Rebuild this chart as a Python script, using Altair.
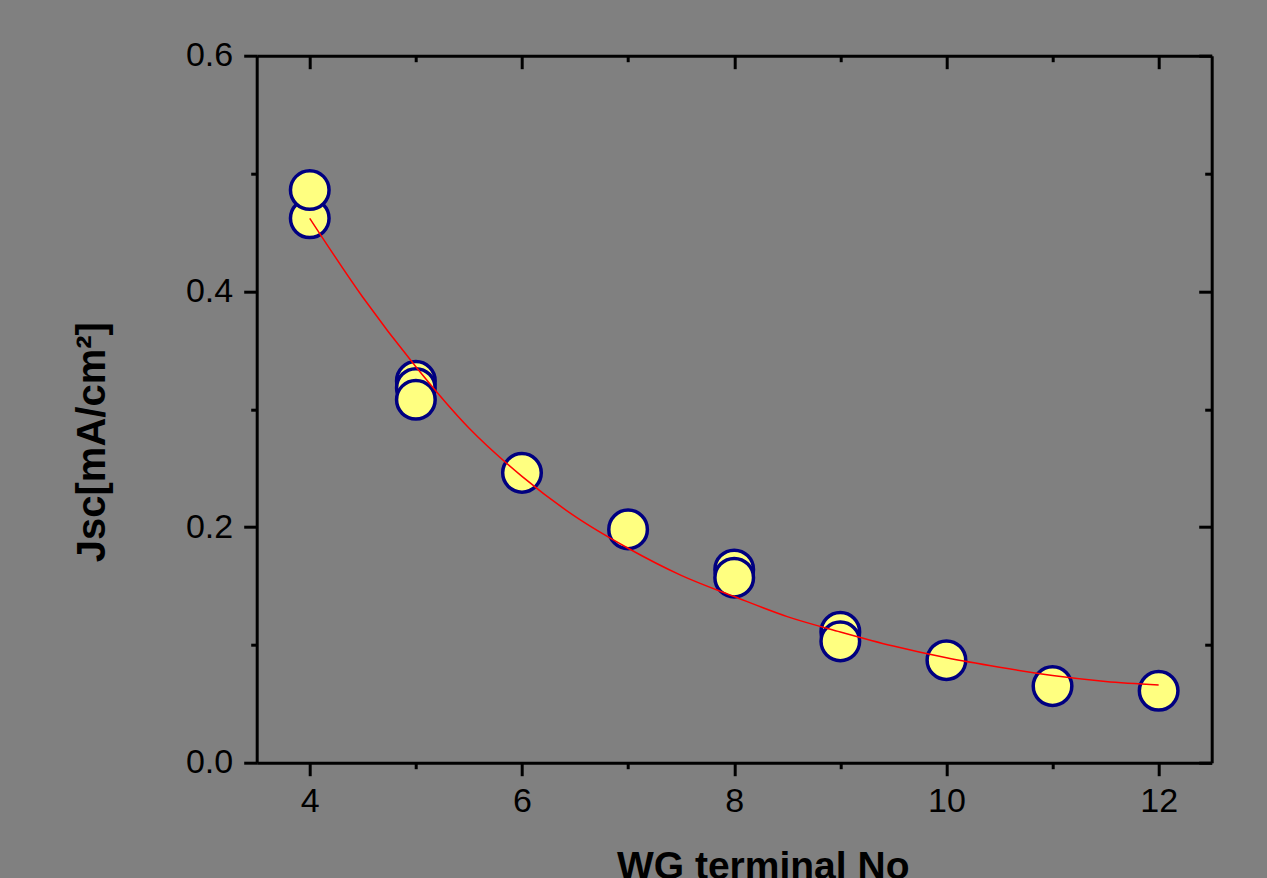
import altair as alt
import pandas as pd

# Measured points (WG terminal No vs Jsc)
pt_x = [4, 4, 5, 5, 5, 6, 7, 8, 8, 9, 9, 10, 11, 12]
pt_y = [0.462, 0.486, 0.324, 0.318, 0.308, 0.246, 0.198, 0.164, 0.157, 0.111, 0.103, 0.087, 0.065, 0.061]

# Fitted curve
curve_x = [4, 4.5, 5, 5.5, 6, 6.5, 7, 7.5, 8, 8.5, 9, 9.5, 10, 10.5, 11, 11.5, 12]
curve_y = [0.462, 0.395, 0.336, 0.284, 0.243, 0.209, 0.182, 0.159, 0.141, 0.124, 0.111, 0.099,
           0.089, 0.081, 0.074, 0.069, 0.066]

x_major = [4, 6, 8, 10, 12]
x_minor = [5, 7, 9, 11]
y_major = [0.0, 0.2, 0.4, 0.6]
y_minor = [0.1, 0.3, 0.5]

W, H = 955, 707
FONT = "Liberation Sans"

pts = pd.DataFrame({"x": pt_x, "y": pt_y, "order": list(range(len(pt_x)))})
crv = pd.DataFrame({"x": curve_x, "y": curve_y})

xs = alt.Scale(domain=[3.5, 12.5], nice=False, zero=False)
ys = alt.Scale(domain=[0, 0.6], nice=False, zero=False)

common = dict(domainColor="black", domainWidth=3, tickColor="black", tickWidth=3,
              grid=False, labelFont=FONT, labelColor="black", labelFontSize=34)

# main bottom/left axes with labels and titles
x_main = alt.Axis(orient="bottom", values=x_major, tickSize=13, labelPadding=9,
                  format="d", labelFlush=False, labelOverlap=False,
                  title="WG terminal No", titleFont=FONT, titleFontWeight="bold",
                  titleFontSize=39, titleColor="black", titleX=506, titleY=116,
                  titleAlign="center", titleBaseline="alphabetic", **common)
y_main = alt.Axis(orient="left", values=y_major, tickSize=13, labelPadding=11,
                  format=".1f", labelFlush=False, labelOverlap=False,
                  title="Jsc[mA/cm²]", titleFont=FONT, titleFontWeight="bold",
                  titleFontSize=40, titleColor="black", titleX=-152, titleY=386,
                  titleAngle=270, titleAlign="center", titleBaseline="alphabetic", **common)

points = alt.Chart(pts).mark_point(
    shape="circle", filled=True, size=1490, fill="#FFFF80", stroke="#000080",
    strokeWidth=3.5, opacity=1
).encode(
    x=alt.X("x:Q", scale=xs, axis=x_main),
    y=alt.Y("y:Q", scale=ys, axis=y_main),
    order=alt.Order("order:Q"),
)

# minor outward ticks (bottom/left)
line = alt.Chart(crv).mark_line(color="#FF0000", strokeWidth=1.5, interpolate="monotone").encode(
    x=alt.X("x:Q", scale=xs, title="",
            axis=alt.Axis(orient="bottom", values=x_minor, tickSize=6, labels=False,
                          domain=False, **common)),
    y=alt.Y("y:Q", scale=ys, title="",
            axis=alt.Axis(orient="left", values=y_minor, tickSize=6, labels=False,
                          domain=False, **common)),
)

# top / right axes with inward ticks (placed by negative offset)
top_right_major = alt.Chart(crv).mark_line(opacity=0).encode(
    x=alt.X("x:Q", scale=xs, title="",
            axis=alt.Axis(orient="bottom", offset=-H, values=x_major, tickSize=13,
                          labels=False, **common)),
    y=alt.Y("y:Q", scale=ys, title="",
            axis=alt.Axis(orient="left", offset=-W, values=y_major, tickSize=13,
                          labels=False, **common)),
)
top_right_minor = alt.Chart(crv).mark_line(opacity=0).encode(
    x=alt.X("x:Q", scale=xs, title="",
            axis=alt.Axis(orient="bottom", offset=-H, values=x_minor, tickSize=6,
                          labels=False, domain=False, **common)),
    y=alt.Y("y:Q", scale=ys, title="",
            axis=alt.Axis(orient="left", offset=-W, values=y_minor, tickSize=7,
                          labels=False, domain=False, **common)),
)

chart = alt.layer(points, line, top_right_major, top_right_minor).resolve_axis(
    x="independent", y="independent"
).properties(
    width=W, height=H, background="#808080",
    autosize=alt.AutoSizeParams(type="none"),
    padding={"left": 256.7, "top": 55.7, "right": 55.3, "bottom": 115.3},
).configure_view(strokeWidth=0)

chart.save("out.html", embed_options={"renderer": "svg", "actions": False})
